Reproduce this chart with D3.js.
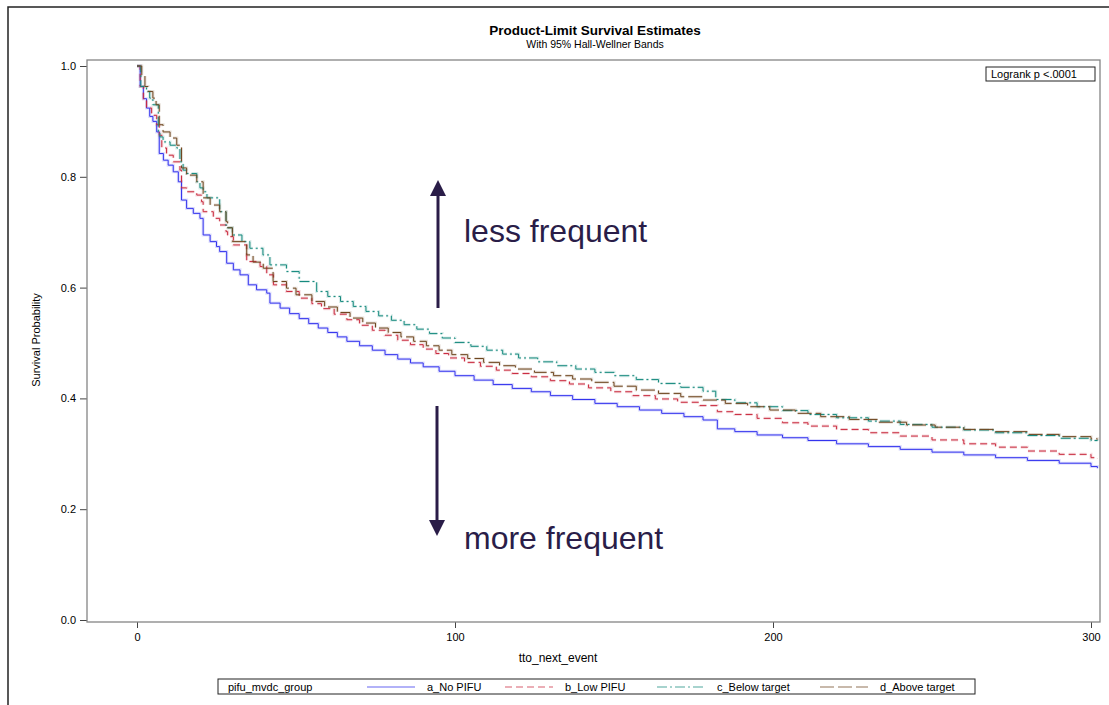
<!DOCTYPE html>
<html>
<head>
<meta charset="utf-8">
<script src="https://cdn.jsdelivr.net/npm/d3@7"></script>
<style>
  body { margin: 0; background: #fff; }
  text { font-family: "Liberation Sans", Arial, sans-serif; }
</style>
</head>
<body>
<svg></svg>
<script>
const svg = d3.select('svg')
    .attr('width', 1109)
    .attr('height', 705);

// survival step points
const groups = ['a_No PIFU', 'b_Low PIFU', 'c_Below target', 'd_Above target'];

const tA = [0, 1, 2, 3, 4, 5, 6.2, 7, 8.3, 9.8, 11.4, 13, 14, 15.6, 17.7, 19.8, 20.8, 23, 25, 26, 28.2, 30.3, 32.4, 35, 37.6, 40.8, 41.8, 45, 48, 51, 54, 57, 60, 63, 66, 70, 74, 78, 82, 86, 90, 95, 100, 106, 112, 118, 124, 130, 137, 144, 151, 158, 165, 172, 178, 182.5, 188, 195, 203, 211, 220, 230, 240, 250, 260, 270, 280, 290, 300, 302];
const vA = [1, .963, .941, .924, .909, .9, .881, .842, .83, .821, .809, .791, .758, .743, .734, .725, .695, .683, .674, .665, .644, .632, .623, .605, .596, .59, .572, .563, .553, .544, .535, .527, .519, .511, .503, .495, .487, .479, .471, .464, .457, .449, .441, .433, .425, .418, .412, .405, .398, .391, .385, .379, .373, .367, .361, .345, .340, .334, .329, .324, .318, .313, .308, .303, .298, .293, .288, .283, .277, .274];

const tB = [0, 1, 2, 3, 4.6, 6.2, 7, 7.8, 9.3, 11.4, 13.5, 14, 15.6, 18.8, 20.3, 20.8, 24, 26, 28, 28.5, 30.3, 34.5, 38.7, 40.8, 42.9, 47, 51, 55, 58, 62, 66, 70, 74, 78, 82, 86, 90, 94, 98, 103, 108, 113, 118, 124, 130, 136, 142, 149, 156, 163, 170, 177, 182.5, 188, 195, 203, 211, 220, 230, 240, 250, 260, 270, 280, 290, 300, 302];
const vB = [1, .963, .941, .924, .911, .894, .875, .852, .839, .827, .812, .780, .773, .767, .755, .737, .725, .713, .701, .692, .677, .647, .638, .623, .605, .593, .581, .571, .562, .552, .542, .532, .523, .514, .505, .497, .489, .481, .473, .465, .458, .451, .445, .439, .432, .426, .419, .412, .405, .399, .393, .387, .376, .371, .364, .356, .350, .344, .338, .332, .325, .318, .312, .305, .299, .293, .291];

const tC = [0, 1.2, 3, 4, 5, 6.7, 7.2, 8.2, 10.4, 12.5, 13.5, 14.5, 15.6, 18.8, 19.8, 20.8, 22, 26, 28, 30, 33, 35.5, 39.6, 41.8, 47, 51, 56.5, 60, 64, 68, 72, 76, 80, 84, 88, 92, 96, 100, 105, 110, 115, 120, 126, 132, 138, 144, 150, 157, 164, 171, 178, 182, 188, 195, 203, 211, 220, 230, 240, 250, 260, 270, 280, 290, 300, 302];
const vC = [1, .963, .954, .942, .93, .881, .872, .863, .857, .852, .827, .812, .806, .791, .78, .773, .762, .737, .708, .695, .683, .671, .659, .641, .629, .611, .593, .584, .575, .566, .557, .549, .541, .533, .525, .517, .509, .501, .494, .487, .480, .473, .466, .459, .453, .447, .441, .434, .427, .420, .413, .398, .392, .385, .378, .371, .365, .359, .353, .348, .343, .338, .333, .328, .324, .323];

const tD = [0, 1.5, 2.5, 3.5, 5, 6, 7, 8.2, 10.4, 12.5, 14, 15.6, 18.8, 20.8, 23, 26, 28, 28.5, 30, 34.5, 36.5, 39.7, 42.8, 47, 50, 55, 59, 63, 67, 71, 75, 79, 83, 87, 91, 95, 99, 104, 109, 114, 119, 125, 131, 137, 143, 150, 157, 164, 171, 178, 185, 192, 199, 207, 215, 224, 233, 242, 251, 260, 270, 280, 290, 300, 302];
const vD = [1, .984, .963, .954, .942, .93, .894, .881, .87, .857, .816, .803, .791, .762, .749, .737, .719, .708, .683, .659, .646, .635, .611, .599, .587, .575, .565, .555, .545, .536, .527, .519, .511, .503, .495, .487, .479, .472, .465, .459, .453, .447, .441, .435, .429, .422, .415, .409, .403, .397, .391, .385, .379, .373, .367, .362, .357, .352, .348, .344, .340, .335, .331, .327, .326];

const xTicks = [0, 100, 200, 300];
const yTicks = [0, 0.2, 0.4, 0.6, 0.8, 1.0];

const series = [
    { name: groups[0], pts: d3.zip(tA, vA), color: '#3434ee', dash: null },
    { name: groups[1], pts: d3.zip(tB, vB), color: '#c92a3e', dash: '7,4' },
    { name: groups[2], pts: d3.zip(tC, vC), color: '#168a7e', dash: '10,3,2,3' },
    { name: groups[3], pts: d3.zip(tD, vD), color: '#6e461f', dash: '14,4' }
];

// plot frame
const frameL = 87, frameR = 1100, frameT = 60, frameB = 622;

const x = d3.scaleLinear().domain([0, 300]).range([137, 1091]);
const y = d3.scaleLinear().domain([0, 1]).range([620, 66]);

// outer border (left + top only)
svg.append('path')
    .attr('d', 'M8,705 L8,7 L1109,7')
    .attr('fill', 'none')
    .attr('stroke', '#222')
    .attr('stroke-width', 1.5);

// titles
svg.append('text')
    .attr('x', 595)
    .attr('y', 35)
    .attr('text-anchor', 'middle')
    .style('font-size', '13.5px')
    .style('font-weight', 'bold')
    .text('Product-Limit Survival Estimates');

svg.append('text')
    .attr('x', 595)
    .attr('y', 48)
    .attr('text-anchor', 'middle')
    .style('font-size', '10.5px')
    .text('With 95% Hall-Wellner Bands');

// axes
svg.append('g')
    .attr('transform', `translate(0,${frameB})`)
    .call(d3.axisBottom(x).tickValues(xTicks).tickSize(6).tickPadding(5))
    .call(g => g.select('.domain').remove())
    .call(g => g.selectAll('text').style('font-size', '11px').attr('fill', '#000'))
    .call(g => g.selectAll('line').attr('stroke', '#444'));

svg.append('g')
    .attr('transform', `translate(${frameL},0)`)
    .call(d3.axisLeft(y).tickValues(yTicks).tickFormat(d3.format('.1f')).tickSize(7).tickPadding(4))
    .call(g => g.select('.domain').remove())
    .call(g => g.selectAll('text').style('font-size', '11px').attr('fill', '#000'))
    .call(g => g.selectAll('line').attr('stroke', '#444'));

svg.append('rect')
    .attr('x', frameL)
    .attr('y', frameT)
    .attr('width', frameR - frameL)
    .attr('height', frameB - frameT)
    .attr('fill', 'none')
    .attr('stroke', '#858585')
    .attr('stroke-width', 1.3);

svg.append('text')
    .attr('transform', 'translate(40,340) rotate(-90)')
    .attr('text-anchor', 'middle')
    .style('font-size', '11px')
    .text('Survival Probability');

svg.append('text')
    .attr('x', 558)
    .attr('y', 662)
    .attr('text-anchor', 'middle')
    .style('font-size', '12px')
    .text('tto_next_event');

// curves
const line = d3.line()
    .x(d => x(d[0]))
    .y(d => y(d[1]))
    .curve(d3.curveStepAfter);

svg.selectAll('.halo')
    .data(series)
    .enter()
    .append('path')
    .attr('class', 'halo')
    .attr('d', d => line(d.pts))
    .attr('fill', 'none')
    .attr('stroke', d => d.color)
    .attr('stroke-opacity', 0.16)
    .attr('stroke-width', 3)
    .attr('stroke-dasharray', d => d.dash);

svg.selectAll('.curve')
    .data(series)
    .enter()
    .append('path')
    .attr('class', 'curve')
    .attr('d', d => line(d.pts))
    .attr('fill', 'none')
    .attr('stroke', d => d.color)
    .attr('stroke-width', 1)
    .attr('stroke-dasharray', d => d.dash);

// logrank box
svg.append('rect')
    .attr('x', 986)
    .attr('y', 67)
    .attr('width', 109)
    .attr('height', 14)
    .attr('fill', '#fff')
    .attr('stroke', '#222');

svg.append('text')
    .attr('x', 991)
    .attr('y', 78)
    .style('font-size', '11px')
    .text('Logrank p <.0001');

// annotations
const ink = '#2a1d48';

svg.append('line')
    .attr('x1', 438).attr('y1', 308)
    .attr('x2', 438).attr('y2', 192)
    .attr('stroke', ink)
    .attr('stroke-width', 3);
svg.append('path')
    .attr('d', 'M438,180 L430,196 L446,196 Z')
    .attr('fill', ink);

svg.append('line')
    .attr('x1', 437).attr('y1', 406)
    .attr('x2', 437).attr('y2', 522)
    .attr('stroke', ink)
    .attr('stroke-width', 3);
svg.append('path')
    .attr('d', 'M437,536 L429,520 L445,520 Z')
    .attr('fill', ink);

svg.append('text')
    .attr('x', 464)
    .attr('y', 242)
    .attr('fill', ink)
    .style('font-size', '32px')
    .text('less frequent');

svg.append('text')
    .attr('x', 464)
    .attr('y', 549)
    .attr('fill', ink)
    .style('font-size', '32px')
    .text('more frequent');

// legend
svg.append('rect')
    .attr('x', 218)
    .attr('y', 679)
    .attr('width', 757)
    .attr('height', 15)
    .attr('fill', '#fff')
    .attr('stroke', '#222');

svg.append('text')
    .attr('x', 228)
    .attr('y', 691)
    .style('font-size', '11px')
    .text('pifu_mvdc_group');

const legendX = [367, 505, 657, 820];

svg.selectAll('.leg-line')
    .data(series)
    .enter()
    .append('line')
    .attr('x1', (d, i) => legendX[i])
    .attr('x2', (d, i) => legendX[i] + 48)
    .attr('y1', 687)
    .attr('y2', 687)
    .attr('stroke', d => d.color)
    .attr('stroke-opacity', 0.5)
    .attr('stroke-width', 1.3)
    .attr('stroke-dasharray', d => d.dash);

svg.selectAll('.leg-text')
    .data(series)
    .enter()
    .append('text')
    .attr('x', (d, i) => legendX[i] + 60)
    .attr('y', 691)
    .style('font-size', '11px')
    .text(d => d.name);
</script>
</body>
</html>
